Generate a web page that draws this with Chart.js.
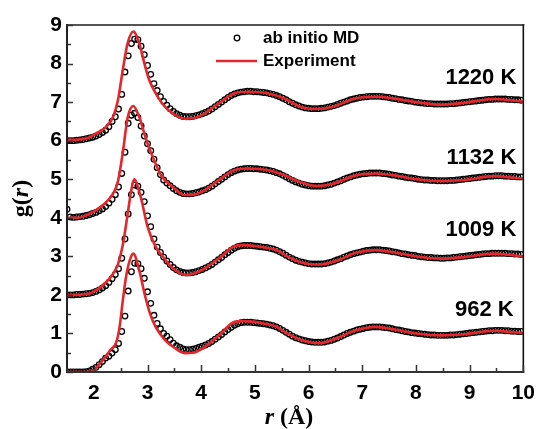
<!DOCTYPE html>
<html><head><meta charset="utf-8">
<script src="https://cdn.jsdelivr.net/npm/chart.js@4"></script>
<style>html,body{margin:0;padding:0;background:#fff;}</style>
</head><body>
<canvas id="c" width="544" height="429"></canvas>
<script>
// ---- data (r in Å, g(r) with vertical offsets as plotted) ----
const rMD = [1.50,1.56,1.62,1.68,1.74,1.80,1.86,1.92,1.98,2.04,
2.10,2.16,2.22,2.28,2.34,2.40,2.46,2.52,2.58,2.64,
2.70,2.76,2.82,2.88,2.94,3.00,3.06,3.12,3.18,3.24,
3.30,3.36,3.42,3.48,3.54,3.60,3.66,3.72,3.78,3.84,
3.90,3.96,4.02,4.08,4.14,4.20,4.26,4.32,4.38,4.44,
4.50,4.56,4.62,4.68,4.74,4.80,4.86,4.92,4.98,5.04,
5.10,5.16,5.22,5.28,5.34,5.40,5.46,5.52,5.58,5.64,
5.70,5.76,5.82,5.88,5.94,6.00,6.06,6.12,6.18,6.24,
6.30,6.36,6.42,6.48,6.54,6.60,6.66,6.72,6.78,6.84,
6.90,6.96,7.02,7.08,7.14,7.20,7.26,7.32,7.38,7.44,
7.50,7.56,7.62,7.68,7.74,7.80,7.86,7.92,7.98,8.04,
8.10,8.16,8.22,8.28,8.34,8.40,8.46,8.52,8.58,8.64,
8.70,8.76,8.82,8.88,8.94,9.00,9.06,9.12,9.18,9.24,
9.30,9.36,9.42,9.48,9.54,9.60,9.66,9.72,9.78,9.84,
9.90,9.96];

const md962 = [0.00,0.00,0.00,0.00,0.00,0.00,0.01,0.03,0.07,0.12,
0.19,0.27,0.36,0.41,0.49,0.58,0.74,1.05,1.45,2.10,
2.60,2.82,2.81,2.68,2.43,2.08,1.78,1.47,1.26,1.12,
1.00,0.93,0.84,0.75,0.68,0.64,0.60,0.58,0.58,0.59,
0.61,0.64,0.67,0.70,0.74,0.79,0.85,0.91,0.97,1.04,
1.10,1.16,1.21,1.25,1.28,1.29,1.29,1.29,1.28,1.27,
1.26,1.25,1.24,1.22,1.20,1.17,1.13,1.08,1.03,0.98,
0.93,0.89,0.86,0.83,0.81,0.79,0.78,0.77,0.77,0.77,
0.78,0.80,0.82,0.85,0.88,0.92,0.96,1.00,1.03,1.06,
1.09,1.11,1.13,1.15,1.16,1.17,1.17,1.17,1.16,1.15,
1.14,1.12,1.10,1.09,1.07,1.05,1.04,1.02,1.01,1.00,
0.99,0.98,0.97,0.96,0.96,0.95,0.95,0.95,0.95,0.96,
0.96,0.97,0.98,0.99,1.00,1.01,1.02,1.03,1.04,1.05,
1.06,1.07,1.07,1.08,1.08,1.08,1.07,1.07,1.06,1.06,
1.05,1.05];

const md1009 = [2.00,2.00,2.00,2.01,2.01,2.02,2.03,2.04,2.06,2.09,
2.13,2.18,2.24,2.32,2.42,2.53,2.68,2.95,3.45,4.10,
4.60,4.85,4.82,4.66,4.42,4.05,3.77,3.45,3.24,3.10,
2.98,2.88,2.79,2.71,2.65,2.61,2.58,2.57,2.57,2.58,
2.60,2.63,2.66,2.70,2.74,2.79,2.85,2.91,2.97,3.04,
3.10,3.16,3.21,3.25,3.27,3.28,3.28,3.28,3.27,3.26,
3.25,3.24,3.23,3.21,3.19,3.16,3.12,3.08,3.03,2.98,
2.94,2.90,2.87,2.85,2.83,2.81,2.80,2.80,2.80,2.80,
2.81,2.83,2.85,2.88,2.91,2.94,2.98,3.01,3.04,3.07,
3.09,3.11,3.13,3.15,3.16,3.17,3.17,3.17,3.16,3.15,
3.14,3.12,3.11,3.09,3.07,3.06,3.04,3.03,3.02,3.00,
2.99,2.98,2.97,2.97,2.96,2.96,2.95,2.95,2.96,2.96,
2.97,2.98,2.99,3.00,3.01,3.02,3.03,3.04,3.05,3.06,
3.07,3.07,3.08,3.08,3.08,3.08,3.08,3.07,3.07,3.06,
3.06,3.05];

const md1132 = [4.22,4.02,4.01,4.02,4.03,4.04,4.06,4.08,4.11,4.14,
4.18,4.23,4.29,4.38,4.48,4.60,4.80,5.15,5.70,6.45,
6.66,6.71,6.60,6.38,6.12,5.92,5.74,5.52,5.30,5.12,
4.98,4.90,4.83,4.76,4.70,4.66,4.63,4.62,4.62,4.63,
4.65,4.67,4.70,4.73,4.77,4.82,4.88,4.94,5.00,5.06,
5.12,5.17,5.21,5.24,5.26,5.27,5.28,5.28,5.27,5.27,
5.26,5.25,5.24,5.22,5.20,5.17,5.14,5.10,5.06,5.01,
4.97,4.93,4.90,4.87,4.85,4.83,4.82,4.82,4.82,4.82,
4.83,4.85,4.87,4.90,4.93,4.96,5.00,5.03,5.06,5.09,
5.11,5.13,5.14,5.15,5.16,5.16,5.16,5.16,5.15,5.14,
5.13,5.11,5.10,5.08,5.07,5.05,5.04,5.03,5.02,5.00,
4.99,4.98,4.98,4.97,4.97,4.96,4.96,4.96,4.96,4.97,
4.97,4.98,4.99,5.00,5.01,5.02,5.03,5.04,5.05,5.06,
5.07,5.08,5.08,5.09,5.09,5.09,5.08,5.08,5.07,5.07,
5.06,5.06];

const md1220 = [6.00,6.00,6.00,6.01,6.02,6.03,6.05,6.07,6.09,6.12,
6.16,6.21,6.27,6.36,6.50,6.62,6.82,7.20,7.78,8.20,
8.52,8.63,8.62,8.45,8.23,7.95,7.72,7.48,7.30,7.14,
7.02,6.92,6.83,6.76,6.70,6.66,6.63,6.62,6.62,6.63,
6.65,6.67,6.70,6.73,6.77,6.82,6.88,6.94,7.00,7.06,
7.12,7.17,7.21,7.24,7.26,7.27,7.28,7.28,7.27,7.27,
7.26,7.25,7.24,7.22,7.20,7.17,7.14,7.10,7.06,7.01,
6.97,6.93,6.90,6.87,6.85,6.84,6.83,6.83,6.83,6.84,
6.85,6.87,6.89,6.91,6.94,6.97,7.00,7.03,7.06,7.08,
7.10,7.12,7.13,7.14,7.15,7.15,7.15,7.15,7.14,7.13,
7.12,7.10,7.09,7.07,7.06,7.04,7.03,7.02,7.00,6.99,
6.98,6.97,6.96,6.96,6.95,6.95,6.95,6.95,6.95,6.96,
6.96,6.97,6.98,6.99,7.00,7.01,7.02,7.03,7.04,7.05,
7.06,7.07,7.07,7.08,7.08,7.08,7.08,7.07,7.07,7.06,
7.06,7.05];

const expR962 = [1.5,1.9,2.0,2.1,2.2,2.3,2.42,2.48,2.54,2.6,2.67,2.735,2.845,2.95,3.05,3.15,3.33,3.52,3.7,3.85,4.07,4.37,4.62,4.8,5.0,5.17,5.41,5.6,5.9,6.21,6.51,6.88,7.25,7.6,8.0,8.47,8.9,9.45,9.8,10];
const exp962  = [0,0,0.03,0.2,0.36,0.56,0.78,1.17,1.86,2.47,2.9,3.07,2.64,2.0,1.5,1.17,0.82,0.61,0.49,0.5,0.65,1.0,1.3,1.32,1.3,1.26,1.17,1.0,0.81,0.75,0.87,1.08,1.17,1.1,1.0,0.95,0.98,1.07,1.03,1.01];

const expR1009 = [1.5,1.9,1.99,2.17,2.36,2.45,2.54,2.63,2.69,2.75,2.88,3.0,3.15,3.3,3.45,3.7,3.85,4.07,4.37,4.62,4.8,5.0,5.17,5.41,5.6,5.9,6.21,6.51,6.88,7.25,7.6,8.0,8.47,8.9,9.45,9.8,10];
const exp1009  = [1.99,2.03,2.08,2.25,2.55,2.8,3.3,4.1,4.65,5.0,4.5,3.77,3.25,2.97,2.72,2.52,2.55,2.69,2.99,3.27,3.29,3.27,3.23,3.16,3.0,2.83,2.79,2.88,3.09,3.16,3.1,3.0,2.94,2.98,3.07,3.03,3.0];

const expR1132 = [1.5,1.7,1.85,1.99,2.17,2.36,2.45,2.54,2.63,2.735,2.845,2.94,3.0,3.12,3.27,3.46,3.7,3.85,4.07,4.37,4.62,4.86,5.23,5.54,5.84,6.15,6.45,6.88,7.25,7.6,8.0,8.47,8.9,9.45,9.8,10];
const exp1132  = [4.0,4.0,4.06,4.16,4.33,4.63,4.95,5.7,6.6,6.9,6.62,6.19,5.93,5.5,5.06,4.81,4.59,4.6,4.72,5.02,5.24,5.28,5.24,5.11,4.93,4.82,4.88,5.1,5.15,5.1,5.0,4.95,4.98,5.08,5.04,5.02];

const expR1220 = [1.5,1.7,1.87,2.05,2.23,2.36,2.45,2.54,2.63,2.735,2.845,2.94,3.03,3.15,3.27,3.46,3.7,3.85,4.07,4.37,4.62,4.86,5.23,5.54,5.84,6.15,6.45,6.88,7.25,7.6,8.0,8.47,8.9,9.45,9.8,10];
const exp1220  = [6.02,6.03,6.06,6.19,6.36,6.62,7.06,7.84,8.53,8.83,8.53,8.01,7.58,7.23,6.97,6.71,6.57,6.58,6.71,7.01,7.23,7.27,7.23,7.1,6.88,6.82,6.88,7.1,7.14,7.09,7.0,6.93,6.98,7.08,7.04,7.01];

const xTicks = [2,3,4,5,6,7,8,9,10];
const yTicks = [0,1,2,3,4,5,6,7,8,9];
const tempLabels = ['962 K','1009 K','1132 K','1220 K'];
const legendLabels = ['ab initio MD','Experiment'];

// ---- build datasets ----
const pts = (xs, ys) => xs.map((x, i) => ({x: x, y: ys[i]}));
const RED = '#e5262c';
const mdSets = [md962, md1009, md1132, md1220];
const expSets = [[expR962, exp962],[expR1009, exp1009],[expR1132, exp1132],[expR1220, exp1220]];
const datasets = [];
expSets.forEach((e, i) => datasets.push({
  label: legendLabels[1] + ' ' + tempLabels[i], data: pts(e[0], e[1]), showLine: true,
  borderColor: RED, borderWidth: 2.6, pointRadius: 0, cubicInterpolationMode: 'monotone', order: 0
}));
mdSets.forEach((m, i) => datasets.push({
  label: legendLabels[0] + ' ' + tempLabels[i], data: pts(rMD, m), showLine: false,
  pointStyle: 'circle', pointRadius: 2.8, borderColor: '#000', borderWidth: 1.3,
  backgroundColor: 'rgba(255,255,255,0)', order: 1
}));

const tickFont = {family: '"Liberation Sans", Arial, sans-serif', weight: 'bold', size: 21};

const decor = {
  id: 'decor',
  afterDraw(chart) {
    const {ctx, chartArea: a, scales: {x, y}} = chart;
    ctx.save();
    // frame
    ctx.lineCap = 'square';
    ctx.strokeStyle = '#555'; ctx.lineWidth = 2;
    ctx.beginPath(); ctx.moveTo(a.left, a.top); ctx.lineTo(a.right, a.top); ctx.stroke();
    ctx.strokeStyle = '#111'; ctx.lineWidth = 1.6;
    ctx.beginPath(); ctx.moveTo(a.right, a.top); ctx.lineTo(a.right, a.bottom); ctx.stroke();
    ctx.strokeStyle = '#333'; ctx.lineWidth = 2;
    ctx.beginPath(); ctx.moveTo(a.left, a.bottom); ctx.lineTo(a.right, a.bottom); ctx.stroke();
    ctx.strokeStyle = '#222'; ctx.lineWidth = 2;
    ctx.beginPath(); ctx.moveTo(a.left, a.top); ctx.lineTo(a.left, a.bottom); ctx.stroke();
    // inward ticks
    ctx.lineCap = 'butt';
    ctx.strokeStyle = '#333'; ctx.lineWidth = 1.5;
    xTicks.forEach(v => {
      let px = Math.round(x.getPixelForValue(v)) + 0.5;
      ctx.beginPath(); ctx.moveTo(px, a.bottom); ctx.lineTo(px, a.bottom - 7); ctx.stroke();
      px = Math.round(x.getPixelForValue(v - 0.5)) + 0.5;
      ctx.beginPath(); ctx.moveTo(px, a.bottom); ctx.lineTo(px, a.bottom - 4); ctx.stroke();
    });
    yTicks.forEach(v => {
      let py = Math.round(y.getPixelForValue(v)) + 0.5;
      ctx.beginPath(); ctx.moveTo(a.left, py); ctx.lineTo(a.left + 6, py); ctx.stroke();
      if (v < 9) {
        py = Math.round(y.getPixelForValue(v + 0.5)) + 0.5;
        ctx.beginPath(); ctx.moveTo(a.left, py); ctx.lineTo(a.left + 4, py); ctx.stroke();
      }
    });
    // temperature labels
    ctx.fillStyle = '#000';
    ctx.font = 'bold 22px "Liberation Sans", Arial, sans-serif';
    ctx.textAlign = 'right'; ctx.textBaseline = 'middle';
    const lp = [[9.82, 1.60], [9.87, 3.68], [9.87, 5.55], [9.87, 7.63]];
    tempLabels.forEach((t, i) => ctx.fillText(t, x.getPixelForValue(lp[i][0]), y.getPixelForValue(lp[i][1])));
    // legend
    ctx.textAlign = 'left';
    ctx.font = 'bold 17px "Liberation Sans", Arial, sans-serif';
    ctx.strokeStyle = '#000'; ctx.lineWidth = 1.3;
    ctx.beginPath(); ctx.arc(237, 38, 2.8, 0, Math.PI * 2); ctx.stroke();
    ctx.fillText(legendLabels[0], 263, 38);
    ctx.strokeStyle = RED; ctx.lineWidth = 2.6;
    ctx.beginPath(); ctx.moveTo(216, 61); ctx.lineTo(257, 61); ctx.stroke();
    ctx.fillText(legendLabels[1], 263, 61);
    // x title: r (Å)
    const serifB = 'bold 24px "Liberation Serif", "Times New Roman", serif';
    const serifBI = 'italic bold 24px "Liberation Serif", "Times New Roman", serif';
    ctx.textBaseline = 'alphabetic';
    ctx.font = serifBI; const wr = ctx.measureText('r').width;
    ctx.font = serifB; const wrest = ctx.measureText(' (Å)').width;
    let sx = 289 - (wr + wrest) / 2;
    ctx.font = serifBI; ctx.fillText('r', sx, 424);
    ctx.font = serifB; ctx.fillText(' (Å)', sx + wr, 424);
    // y title: g(r)
    ctx.save();
    ctx.translate(28, (a.top + a.bottom) / 2);
    ctx.rotate(-Math.PI / 2);
    ctx.font = serifB; const w1 = ctx.measureText('g(').width; const w3 = ctx.measureText(')').width;
    ctx.font = serifBI; const w2 = ctx.measureText('r').width;
    sx = -(w1 + w2 + w3) / 2;
    ctx.font = serifB; ctx.fillText('g(', sx, 0);
    ctx.font = serifBI; ctx.fillText('r', sx + w1, 0);
    ctx.font = serifB; ctx.fillText(')', sx + w1 + w2, 0);
    ctx.restore();
    ctx.restore();
  }
};

new Chart(document.getElementById('c'), {
  type: 'scatter',
  data: {datasets},
  options: {
    responsive: false, animation: false, devicePixelRatio: 1,
    layout: {padding: {left: 20, right: 15, top: 25, bottom: 0}},
    plugins: {legend: {display: false}, tooltip: {enabled: false}},
    scales: {
      x: {
        type: 'linear', min: 1.5, max: 10,
        afterBuildTicks: s => { s.ticks = xTicks.map(v => ({value: v})); },
        afterFit: s => { s.height = 57; },
        grid: {display: false, drawTicks: false}, border: {display: false},
        ticks: {font: tickFont, color: '#000', padding: 9, maxRotation: 0, autoSkip: false}
      },
      y: {
        type: 'linear', min: 0, max: 9,
        afterBuildTicks: s => { s.ticks = yTicks.map(v => ({value: v})); },
        afterFit: s => { s.width = 47; },
        grid: {display: false, drawTicks: false}, border: {display: false},
        ticks: {font: tickFont, color: '#000', padding: 5, autoSkip: false}
      }
    }
  },
  plugins: [decor]
});
</script>
</body></html>
